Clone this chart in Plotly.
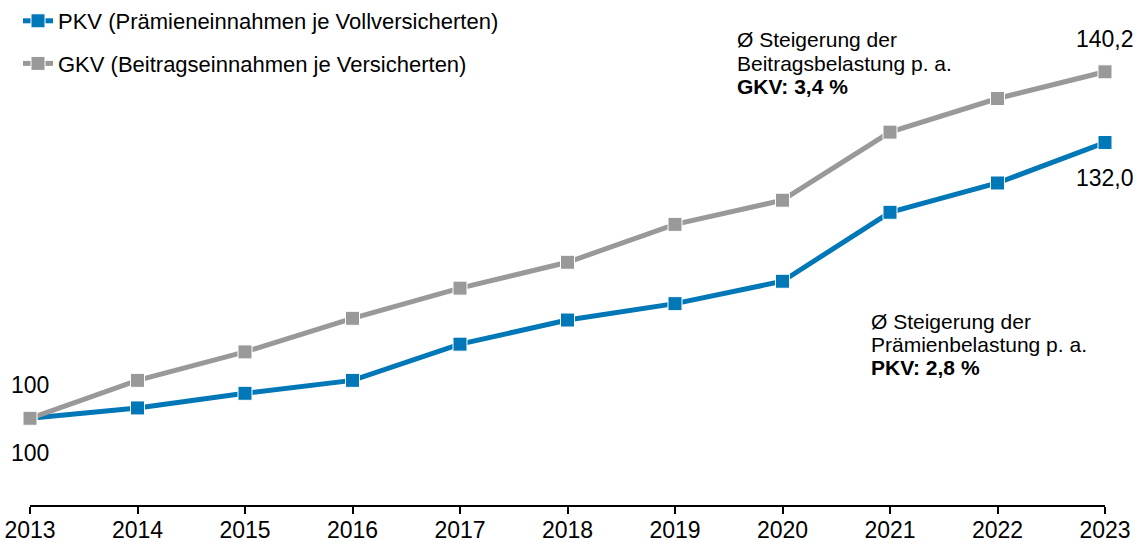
import plotly.graph_objects as go

years = [2013, 2014, 2015, 2016, 2017, 2018, 2019, 2020, 2021, 2022, 2023]
pkv = [100.0, 101.2, 102.9, 104.4, 108.6, 111.4, 113.3, 115.9, 123.9, 127.3, 132.0]
gkv = [100.0, 104.4, 107.7, 111.6, 115.1, 118.1, 122.5, 125.3, 133.2, 137.1, 140.2]
pkv_name = "PKV (Prämieneinnahmen je Vollversicherten)"
gkv_name = "GKV (Beitragseinnahmen je Versicherten)"
gkv_note = ["Ø Steigerung der", "Beitragsbelastung p. a.", "<b>GKV: 3,4 %</b>"]
pkv_note = ["Ø Steigerung der", "Prämienbelastung p. a.", "<b>PKV: 2,8 %</b>"]

BLUE = "#0077B7"
GRAY = "#999999"
FONT = "Liberation Sans, Arial, sans-serif"

W, H = 1137, 543
ML, MR, MT, MB = 30, 32, 10, 38
PW, PH = W - ML - MR, H - MT - MB


def fmt(v):
    s = f"{v:.1f}".replace(".", ",")
    return s[:-2] if s.endswith(",0") and v == 100 else s


def px2x(px):
    return (px - ML) / PW


def px2y(py):
    return (H - MB - py) / PH


fig = go.Figure()
fig.add_trace(go.Scatter(
    x=years, y=pkv, name=pkv_name, mode="lines+markers", legendgroup="a",
    line=dict(color=BLUE, width=5),
    marker=dict(symbol="square", size=14, color=BLUE, line=dict(color="white", width=1)),
    cliponaxis=False,
))
fig.add_trace(go.Scatter(
    x=years, y=gkv, name=gkv_name, mode="lines+markers", legendgroup="b",
    line=dict(color=GRAY, width=5),
    marker=dict(symbol="square", size=14, color=GRAY, line=dict(color="white", width=1)),
    cliponaxis=False,
))

annotations = []
annotations.append(dict(x=years[0], y=gkv[0], text=fmt(gkv[0]), yshift=33))
annotations.append(dict(x=years[0], y=pkv[0], text=fmt(pkv[0]), yshift=-35))
annotations.append(dict(x=years[-1], y=gkv[-1], text=fmt(gkv[-1]), yshift=33))
annotations.append(dict(x=years[-1], y=pkv[-1], text=fmt(pkv[-1]), yshift=-36))
for a in annotations:
    a.update(xref="x", yref="y", showarrow=False, xanchor="center", yanchor="middle",
             font=dict(size=23, color="black", family=FONT))

for i, line in enumerate(gkv_note):
    annotations.append(dict(x=px2x(735), y=px2y(40 + 23 * i), xref="paper", yref="paper",
                            text=line, showarrow=False, xanchor="left", yanchor="middle",
                            font=dict(size=21, color="black", family=FONT)))
for i, line in enumerate(pkv_note):
    annotations.append(dict(x=px2x(869), y=px2y(321 + 23 * i), xref="paper", yref="paper",
                            text=line, showarrow=False, xanchor="left", yanchor="middle",
                            font=dict(size=21, color="black", family=FONT)))

fig.update_layout(
    width=W, height=H,
    margin=dict(l=ML, r=MR, t=MT, b=MB, autoexpand=False),
    paper_bgcolor="white", plot_bgcolor="white",
    font=dict(family=FONT, size=22, color="black"),
    showlegend=True,
    legend=dict(x=px2x(18), y=px2y(0), xanchor="left", yanchor="top",
                font=dict(size=22, color="black", family=FONT),
                traceorder="grouped", tracegroupgap=11,
                bgcolor="rgba(0,0,0,0)", itemwidth=30),
    xaxis=dict(range=[years[0], years[-1]], tickmode="array", tickvals=years,
               ticktext=[str(y) for y in years], showgrid=False, zeroline=False,
               showline=True, linecolor="black", linewidth=1.5,
               ticks="outside", ticklen=7, tickcolor="black", tickwidth=1.5,
               ticklabeloverflow="allow", ticklabelstandoff=-3,
               tickfont=dict(size=23, color="black", family=FONT)),
    yaxis=dict(range=[89.94, 147.37], visible=False, showgrid=False, zeroline=False),
    annotations=annotations,
)

fig.write_html("out.html", config={"displayModeBar": False},
               post_script="document.body.style.margin='0';")
